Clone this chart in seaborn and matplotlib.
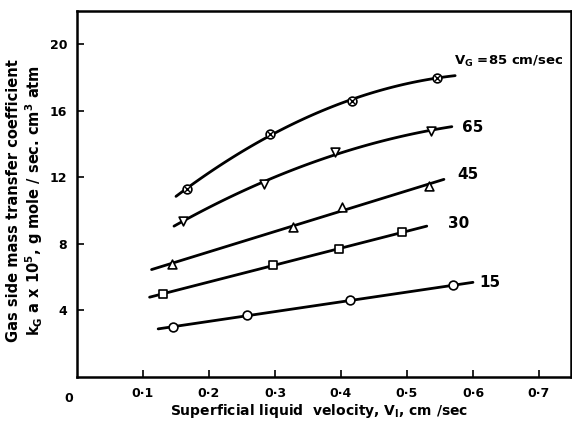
import matplotlib
matplotlib.use('Agg')
import matplotlib.pyplot as plt
import numpy as np
import pandas as pd
import seaborn as sns

# values
vl_85 = [0.166, 0.293, 0.416, 0.546]
kg_85 = [11.3, 14.6, 16.6, 18.0]
vl_65 = [0.160, 0.284, 0.391, 0.537]
kg_65 = [9.4, 11.6, 13.5, 14.8]
vl_45 = [0.144, 0.327, 0.401, 0.534]
kg_45 = [6.8, 9.0, 10.2, 11.5]
vl_30 = [0.130, 0.297, 0.397, 0.493]
kg_30 = [5.0, 6.7, 7.7, 8.7]
vl_15 = [0.145, 0.258, 0.413, 0.570]
kg_15 = [3.0, 3.7, 4.6, 5.5]

# extent of the drawn curves (x start, x end)
span_85 = [0.150, 0.573]
span_65 = [0.147, 0.568]
span_45 = [0.113, 0.556]
span_30 = [0.110, 0.530]
span_15 = [0.123, 0.600]

x_ticks = [0.1, 0.2, 0.3, 0.4, 0.5, 0.6, 0.7]
x_tick_labels = ['0·1', '0·2', '0·3', '0·4', '0·5', '0·6', '0·7']
y_ticks = [4, 8, 12, 16, 20]

sns.set_style('ticks')
plt.rcParams['font.family'] = ['DejaVu Sans']
plt.rcParams['font.weight'] = 'bold'
plt.rcParams['axes.labelweight'] = 'bold'
plt.rcParams['mathtext.fontset'] = 'custom'
plt.rcParams['mathtext.rm'] = 'DejaVu Sans:bold'
plt.rcParams['mathtext.it'] = 'DejaVu Sans:bold'
plt.rcParams['mathtext.bf'] = 'DejaVu Sans:bold'
for key in ['text.color', 'axes.labelcolor', 'xtick.color', 'ytick.color', 'axes.edgecolor']:
    plt.rcParams[key] = 'black'

fig = plt.figure(figsize=(5.72, 4.24), dpi=100)
ax = fig.add_axes([0.1346, 0.111, 0.863, 0.863])

series = [
    (vl_85, kg_85, span_85, 'o'),
    (vl_65, kg_65, span_65, 'v'),
    (vl_45, kg_45, span_45, '^'),
    (vl_30, kg_30, span_30, 's'),
    (vl_15, kg_15, span_15, 'o'),
]

for i, (xs, ys, span, mk) in enumerate(series):
    coef = np.polyfit(xs, ys, 2 if i < 2 else 1)
    xx = np.linspace(span[0], span[1], 60)
    curve = pd.DataFrame({'x': xx, 'y': np.polyval(coef, xx)})
    sns.lineplot(data=curve, x='x', y='y', ax=ax, color='black', lw=2.0)
    pts = pd.DataFrame({'x': xs, 'y': ys})
    sns.scatterplot(data=pts, x='x', y='y', ax=ax, marker=mk, s=40,
                    facecolor='white', edgecolor='black', linewidth=1.2, zorder=3)
    if i == 0:
        sns.scatterplot(data=pts, x='x', y='y', ax=ax, marker='x', s=14,
                        color='black', linewidth=1.0, zorder=4)

ax.text(0.571, 18.5, r'V$_G$ =85 cm/sec', fontsize=9.5, va='bottom')
ax.text(0.583, 15.0, '65', fontsize=11, va='center')
ax.text(0.576, 12.2, '45', fontsize=11, va='center')
ax.text(0.562, 9.25, '30', fontsize=11, va='center')
ax.text(0.610, 5.7, '15', fontsize=11, va='center')

ax.set_xlim(0, 0.748)
ax.set_ylim(0, 22)
ax.set_xticks(x_ticks)
ax.set_xticklabels(x_tick_labels)
ax.set_yticks(y_ticks)
ax.tick_params(direction='in', length=5, width=1.2, labelsize=9, pad=7)
ax.text(-0.013, -0.9, '0', fontsize=9, ha='center', va='top')

for sp in ax.spines.values():
    sp.set_linewidth(1.8)

ax.set_xlabel(r'Superficial liquid  velocity, V$_l$, cm /sec', fontsize=10)
ax.xaxis.set_label_coords(0.49, -0.068)
ax.set_ylabel('Gas side mass transfer coefficient\n'
              r'k$_G$ a x 10$^5$, g mole / sec. cm$^3$ atm',
              fontsize=10.5, linespacing=1.15)
ax.yaxis.set_label_coords(-0.064, 0.482)

fig.savefig('out.png', dpi=100)
